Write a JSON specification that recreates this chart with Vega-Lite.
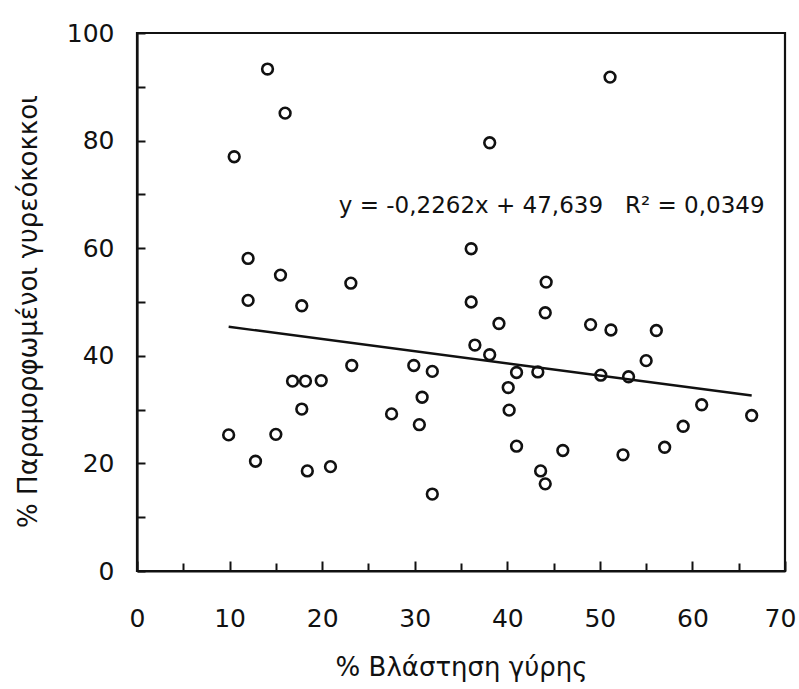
{
  "$schema": "https://vega.github.io/schema/vega-lite/v6.json",
  "width": 648,
  "height": 538,
  "autosize": {"type": "none"},
  "padding": {"left": 137, "top": 33, "right": 14, "bottom": 118},
  "background": "white",
  "config": {"view": {"stroke": "#111", "strokeWidth": 2.2}, "font": "DejaVu Sans"},
  "layer": [
    {
      "data": {"values": [
        {"x": 14.1, "y": 93.3}, {"x": 16.0, "y": 85.1}, {"x": 10.5, "y": 77.0}, {"x": 51.1, "y": 91.8},
        {"x": 38.1, "y": 79.6}, {"x": 12.0, "y": 58.1}, {"x": 15.5, "y": 55.0}, {"x": 23.1, "y": 53.5},
        {"x": 12.0, "y": 50.3}, {"x": 17.8, "y": 49.3}, {"x": 23.2, "y": 38.2}, {"x": 16.8, "y": 35.3},
        {"x": 18.2, "y": 35.3}, {"x": 19.9, "y": 35.4}, {"x": 17.8, "y": 30.1}, {"x": 9.9, "y": 25.3},
        {"x": 15.0, "y": 25.4}, {"x": 12.8, "y": 20.4}, {"x": 18.4, "y": 18.6}, {"x": 20.9, "y": 19.4},
        {"x": 27.5, "y": 29.2}, {"x": 30.8, "y": 32.3}, {"x": 30.5, "y": 27.2}, {"x": 31.9, "y": 14.3},
        {"x": 36.1, "y": 59.9}, {"x": 44.2, "y": 53.7}, {"x": 36.1, "y": 50.0}, {"x": 39.1, "y": 46.0},
        {"x": 44.1, "y": 48.0}, {"x": 36.5, "y": 42.0}, {"x": 38.1, "y": 40.2}, {"x": 29.9, "y": 38.2},
        {"x": 31.9, "y": 37.1}, {"x": 41.0, "y": 36.9}, {"x": 43.3, "y": 37.0}, {"x": 40.1, "y": 34.1},
        {"x": 40.2, "y": 29.9}, {"x": 41.0, "y": 23.2}, {"x": 46.0, "y": 22.4}, {"x": 43.6, "y": 18.6},
        {"x": 44.1, "y": 16.2}, {"x": 49.0, "y": 45.8}, {"x": 51.2, "y": 44.8}, {"x": 56.1, "y": 44.7},
        {"x": 55.0, "y": 39.1}, {"x": 50.1, "y": 36.4}, {"x": 53.1, "y": 36.1}, {"x": 61.0, "y": 30.9},
        {"x": 66.4, "y": 28.9}, {"x": 59.0, "y": 26.9}, {"x": 57.0, "y": 23.0}, {"x": 52.5, "y": 21.6}
      ]},
      "mark": {"type": "point", "shape": "circle", "filled": false, "stroke": "#111", "strokeWidth": 2.6, "size": 115, "opacity": 1},
      "encoding": {
        "x": {
          "field": "x", "type": "quantitative",
          "scale": {"domain": [0, 70], "nice": false, "zero": false},
          "axis": {
            "values": [0, 5, 10, 15, 20, 25, 30, 35, 40, 45, 50, 55, 60, 65, 70],
            "labelExpr": "datum.value % 10 === 0 ? datum.label : ''",
            "grid": false,
            "tickSize": {"condition": {"test": "datum.value % 10 === 0", "value": -10}, "value": -8},
            "tickWidth": 2, "tickColor": "#111",
            "domainColor": "#111", "domainWidth": 2.2,
            "labelFont": "DejaVu Sans", "labelFontSize": 25, "labelColor": "#111",
            "labelPadding": 45, "labelFlush": false, "labelOverlap": false,
            "labelOffset": {"condition": {"test": "datum.value === 70", "value": -5}, "value": 0},
            "title": "% Βλάστηση γύρης",
            "titleFont": "DejaVu Sans", "titleFontSize": 26, "titleFontWeight": "normal", "titleColor": "#111",
            "titleBaseline": "alphabetic", "titleY": 104
          }
        },
        "y": {
          "field": "y", "type": "quantitative",
          "scale": {"domain": [0, 100], "nice": false},
          "axis": {
            "values": [0, 5, 10, 15, 20, 25, 30, 35, 40, 45, 50, 55, 60, 65, 70, 75, 80, 85, 90, 95, 100],
            "labelExpr": "datum.value % 20 === 0 ? datum.label : ''",
            "grid": false,
            "tickSize": -8, "tickWidth": 2, "tickColor": "#111",
            "domainColor": "#111", "domainWidth": 2.2,
            "labelFont": "DejaVu Sans", "labelFontSize": 25, "labelColor": "#111",
            "labelPadding": 31, "labelFlush": false, "labelOverlap": false,
            "title": "% Παραμορφωμένοι γυρεόκοκκοι",
            "titleFont": "DejaVu Sans", "titleFontSize": 26, "titleFontWeight": "normal", "titleColor": "#111",
            "titleAngle": -90, "titleBaseline": "alphabetic", "titleAlign": "center",
            "titleX": -101, "titleY": 278
          }
        }
      }
    },
    {
      "data": {"values": [{"x": 9.9, "y": 45.4}, {"x": 66.4, "y": 32.62}]},
      "mark": {"type": "line", "color": "#111", "strokeWidth": 2.4},
      "encoding": {
        "x": {"field": "x", "type": "quantitative"},
        "y": {"field": "y", "type": "quantitative"}
      }
    },
    {
      "data": {"values": [{"x": 21.8, "y": 67.8, "label": "y = -0,2262x + 47,639\u00a0\u00a0\u00a0R² = 0,0349"}]},
      "mark": {"type": "text", "align": "left", "baseline": "middle", "font": "DejaVu Sans", "fontSize": 23, "color": "#111"},
      "encoding": {
        "x": {"field": "x", "type": "quantitative"},
        "y": {"field": "y", "type": "quantitative"},
        "text": {"field": "label"}
      }
    }
  ]
}
